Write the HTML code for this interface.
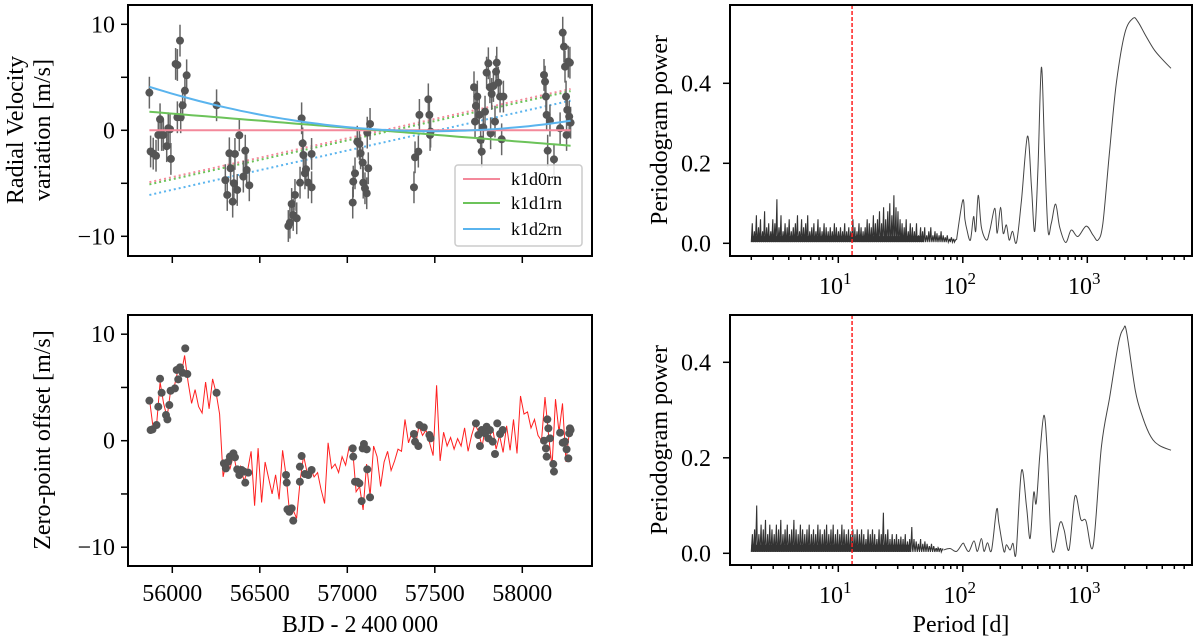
<!DOCTYPE html>
<html><head><meta charset="utf-8"><style>
html,body{margin:0;padding:0;background:#fff;}
svg{display:block;font-family:"Liberation Serif",serif;}
</style></head><body>
<svg id="fig" width="1200" height="642" viewBox="0 0 1200 642" xmlns="http://www.w3.org/2000/svg"></svg>
<script>
// ---------- Radial velocity data (top-left) ----------
const rvTimes=[55869,55876,55891,55907,55920,55930,55939,55949,55968,55977,55987,55992,56019,56029,56044,56029,56048,56059,56072,56082,56253,56303,56314,56326,56333,56345,56352,56371,56383,56358,56406,56417,56425,56440,56663,56672,56682,56691,56701,56711,56739,56745,56749,56758,56764,56730,56777,56796,56796,57031,57034,57044,57057,57069,57076,57088,57091,57101,57111,57120,57130,57114,57381,57387,57406,57412,57463,57469,57476,57473,57724,57730,57735,57743,57754,57762,57768,57777,57787,57796,57806,57815,57819,57825,57835,57844,57850,57854,57863,57873,57882,57892,58124,58130,58135,58139,58145,58158,58181,58216,58231,58238,58244,58250,58253,58257,58263,58268,58272,58276];
const rvValues=[3.55,-2.0,-2.2,-2.4,-0.44,1.04,-0.44,-0.44,-1.5,0.19,0.1,-2.7,6.26,6.16,8.46,1.23,1.23,2.36,3.74,5.19,2.36,-4.7,-6.1,-2.17,-3.58,-6.73,-5.0,-5.63,-0.47,-2.23,-4.37,-1.92,-3.74,-5.19,-9.03,-8.71,-6.95,-7.99,-6.1,-8.3,1.13,-1.23,-2.33,-4.06,-3.68,-4.94,-4.94,-2.23,-5.38,-6.82,-4.84,-4.06,-1.07,-1.29,-2.17,-3.05,-4.94,-5.47,-5.94,-3.58,0.6,-0.22,-5.38,-2.55,-2.01,1.45,2.92,1.45,-0.13,-0.44,4.06,0.82,2.3,3.18,1.45,-0.91,-2.01,0.28,1.76,5.44,6.32,4.06,-0.28,3.43,4.18,0.82,5.53,6.38,4.5,3.18,-0.85,3.18,5.22,4.59,3.18,1.45,-1.92,0.91,-2.74,0.19,9.21,7.89,6.0,3.18,-0.44,1.92,6.48,1.29,6.38,0.72];
const rvErr=[1.5];
const modelTimes=[55869,57070,58276];
const modelK1d0=[0,0,0];
const modelK1d1=[1.75,0.15,-1.45];
const modelK1d2=[4.1,0.2,0.9];
const trendK1d0=[-4.9,-0.5,3.9];
const trendK1d1=[-5.1,-0.7,3.7];
const trendK1d2=[-6.1,-1.65,2.8];

// ---------- Zero-point data (bottom-left) ----------
const zpTimes=[55869,55876,55887,55910,55920,55930,55939,55964,55972,55983,55990,56015,56025,56034,56044,56059,56074,56086,56253,56295,56306,56320,56329,56349,56358,56371,56383,56396,56410,56417,56434,56650,56654,56658,56669,56682,56691,56729,56729,56739,56758,56777,56796,57031,57034,57044,57057,57069,57082,57088,57095,57111,57114,57130,57381,57387,57406,57412,57437,57469,57476,57735,57749,57758,57768,57787,57796,57806,57815,57831,57844,57857,57873,57888,58124,58135,58139,58143,58149,58158,58177,58181,58216,58231,58244,58253,58263,58272,58276,58268];
const zpValues=[3.76,1.0,1.06,1.47,3.19,5.82,4.5,2.41,2.0,3.35,4.69,4.91,6.64,5.76,6.89,6.38,8.67,6.26,4.5,-2.13,-2.6,-1.97,-1.5,-1.19,-1.56,-2.69,-3.22,-2.75,-2.9,-3.94,-3.0,-3.22,-3.94,-6.45,-6.67,-6.35,-7.51,-3.85,-2.44,-1.44,-3.13,-3.22,-2.75,-0.72,-1.5,-3.85,-3.85,-4.0,-5.67,-0.72,-0.31,-0.81,-2.69,-5.32,0.63,-0.09,-0.5,1.47,1.25,0.53,0.22,1.63,0.53,-0.5,1.0,0.69,1.31,0.22,1.0,-0.09,-1.25,1.63,0.63,1.0,0,-0.72,-1.5,2.0,1.16,0.22,-2.19,-2.9,0.75,-0.19,-0.09,-0.81,-1.66,1.16,1.0,0.69];
const zpLineStart=55870;
const zpLineStep=20;
const zpLineValues=[3.8,1.2,1.5,5.5,3.5,2.2,4.7,5.0,6.5,6.2,8.0,5.5,3.5,4.8,3.2,2.6,5.5,3.0,5.8,4.5,2.5,-3.4,-1.9,-2.6,-1.3,-3.0,-2.4,-3.8,-2.8,-1.0,-6.1,-0.7,-5.8,-2.0,-3.5,-5.0,-3.2,-5.5,-0.9,-3.3,-6.8,-6.5,-7.3,-3.8,-1.4,-3.0,-2.6,-3.4,-3.0,-4.6,-5.9,-0.2,-2.6,-2.2,-3.0,-1.5,-2.3,-0.6,-0.8,-4.8,-4.3,-6.5,-2.2,-5.2,-0.5,-1.5,-4.3,-2.0,-1.0,-2.8,-1.9,-0.8,-1.0,2.0,-0.2,0.8,-0.4,1.4,0.5,1.0,-0.2,-1.4,5.2,-1.9,0.8,-0.5,0.3,-0.8,0.2,-0.5,1.2,-1.0,0.5,1.6,0.8,-0.6,1.5,0.2,1.2,-0.8,0.5,-1.1,1.4,-0.9,2.0,-1.2,4.2,2.5,2.7,1.2,2.0,0.5,0.0,4.1,0.6,-2.5,3.9,0.8,3.5,-2.0,1.0];

// ---------- Periodograms ----------
const pgNoiseRange=[2,89];
const pgTopNoise=[.05,.03,.07,.04,.06,.03,.08,.04,.05,.03,.06,.05,.11,.04,.07,.03,.05,.04,.06,.03,.04,.05,.07,.03,.06,.04,.05,.07,.03,.04,.05,.03,.06,.04,.03,.05,.04,.03,.04,.03,.05,.04,.03,.04,.03,.05,.03,.04,.03,.06,.04,.03,.05,.04,.03,.04,.06,.05,.04,.07,.05,.06,.08,.05,.09,.06,.08,.10,.07,.12,.09,.08,.06,.05,.04,.06,.03,.05,.04,.03,.05,.02,.04,.03,.04,.02,.03,.04,.02,.03,.025,.02,.03,.02,.015,.02,.01,.015,.01,.008];
const pgTopPeriods=[89,100,104,108,115,122,127,133,141,155,165,181,189,201,211,224,236,251,270,296,331,356,378,402,428,454,483,514,556,600,670,743,840,980,1110,1218,1334,1512,1711,1999,2333,2550,2970,3460,4000,4700];
const pgTopPower=[0.008,0.108,0.06,0.033,0.008,0.067,0.03,0.12,0.04,0.008,0.033,0.0875,0.025,0.09,0.025,0.046,0.008,0.03,0.002,0.108,0.268,0.14,0.03,0.19,0.44,0.233,0.033,0.05,0.098,0.04,0.002,0.033,0.017,0.043,0.021,0.008,0.05,0.233,0.4,0.525,0.5625,0.554,0.517,0.483,0.46,0.4375];
const pgBotNoiseRange=[2,70];
const pgBotNoise=[.04,.05,.10,.04,.06,.05,.07,.04,.06,.05,.04,.06,.05,.07,.04,.05,.06,.04,.05,.07,.05,.04,.06,.05,.04,.05,.06,.04,.05,.04,.06,.05,.04,.05,.06,.04,.05,.06,.04,.05,.04,.06,.05,.04,.05,.04,.05,.04,.05,.04,.05,.04,.03,.05,.04,.05,.04,.03,.05,.04,.085,.04,.05,.03,.04,.03,.04,.03,.035,.03,.04,.025,.03,.055,.03,.025,.02,.03,.02,.025,.02,.015,.02,.015,.01,.012,.01,.008];
const pgBotPeriods=[70,79,89,100,104,112,123,131,141,148,158,170,187,195,214,224,240,253,268,296,325,347,371,389,415,448,476,507,538,604,651,714,797,887,975,1114,1298,1512,1777,1950,2070,2430,2775,3240,3790,4700];
const pgBotPower=[0.007,0.01,0.004,0.021,0.015,0.004,0.026,0.004,0.031,0.004,0.022,0.006,0.092,0.063,0.004,0.018,0.007,0.021,0.001,0.173,0.098,0.031,0.127,0.105,0.203,0.289,0.216,0.042,0.003,0.064,0.049,0.008,0.12,0.071,0.068,0.015,0.223,0.327,0.439,0.47,0.463,0.341,0.286,0.244,0.226,0.216];
const markerPeriod=[12.9];
const leftXTicks=[56000,56500,57000,57500,58000];
const rvYTicks=[-10,-5,0,5,10];
const rvYLabels=["\u221210","","0","","10"];
const pgYTicks=[0,0.2,0.4];
const pgYLabels=["0.0","0.2","0.4"];
const decades=[1,2,3];

const NS="http://www.w3.org/2000/svg";
const svg=document.getElementById('fig');
function mk(tag,attrs,parent){const e=document.createElementNS(NS,tag);for(const k in attrs)e.setAttribute(k,attrs[k]);(parent||svg).appendChild(e);return e;}
const xT=t=>172.3+(t-56000)*0.175;
const yRV=v=>130.3-v*10.6;
const yZP=v=>440.7-v*10.65;
const xP=p=>713.8+Math.log10(p)*124.5;
const yPT=p=>243.3-p*400;
const yPB=p=>553.3-p*477.5;

function clip(id,x,y,w,h){const d=mk('defs',{});const c=mk('clipPath',{id:id},d);mk('rect',{x:x,y:y,width:w,height:h},c);}
clip('cTL',128,5,464,251);clip('cBL',128,315,464,251);clip('cTR',730,5,462,251);clip('cBR',730,315,462,250);

const FS=24;
function text(x,y,s,anchor,size,name,rot){const t=mk('text',{x:x,y:y,'text-anchor':anchor||'middle','font-size':size||FS,fill:'#000'});if(rot)t.setAttribute('transform',`rotate(-90 ${x} ${y})`);t.textContent=s;return t;}

// ---------- TOP-LEFT ----------
let g=mk('g',{'clip-path':'url(#cTL)'});

function quad(vals,t){const [t0,t1,t2]=modelTimes;const [a,b,c]=vals;return a*(t-t1)*(t-t2)/((t0-t1)*(t0-t2))+b*(t-t0)*(t-t2)/((t1-t0)*(t1-t2))+c*(t-t0)*(t-t1)/((t2-t0)*(t2-t1));}
function curve(vals,color,dash,name){let d='';for(let i=0;i<=60;i++){const t=modelTimes[0]+(modelTimes[2]-modelTimes[0])*i/60;d+=(i?'L':'M')+xT(t).toFixed(1)+' '+yRV(quad(vals,t)).toFixed(1);}const p=mk('path',{d:d,fill:'none',stroke:color,'stroke-width':2,'stroke-dasharray':dash?'2 3':'none'},g);}
curve(trendK1d0,'#f4899b',true,'trend-k1d0rn');
curve(trendK1d1,'#6cc35a',true,'trend-k1d1rn');
curve(trendK1d2,'#5ab4ee',true,'trend-k1d2rn');
rvTimes.forEach((t,i)=>{const x=xT(t),v=rvValues[i];const l=mk('line',{x1:x,x2:x,y1:yRV(v+rvErr[0]),y2:yRV(v-rvErr[0]),stroke:'#666','stroke-width':1.5},g);});
rvTimes.forEach((t,i)=>{const c=mk('circle',{cx:xT(t),cy:yRV(rvValues[i]),r:4,fill:'#555'},g);});
curve(modelK1d0,'#f4899b',false,'model-k1d0rn');
curve(modelK1d1,'#6cc35a',false,'model-k1d1rn');
curve(modelK1d2,'#5ab4ee',false,'model-k1d2rn');

// ---------- BOTTOM-LEFT ----------
g=mk('g',{'clip-path':'url(#cBL)'});

let d='';zpLineValues.forEach((v,i)=>{d+=(i?'L':'M')+xT(zpLineStart+i*zpLineStep).toFixed(1)+' '+yZP(v).toFixed(1);});
let zl=mk('path',{d:d,fill:'none',stroke:'#ff2020','stroke-width':1},g);

zpTimes.forEach((t,i)=>{const c=mk('circle',{cx:xT(t),cy:yZP(zpValues[i]),r:4,fill:'#555'},g);});

// ---------- PERIODOGRAMS ----------
function spline(pts){let s='M'+pts[0][0].toFixed(1)+' '+pts[0][1].toFixed(1);
 for(let i=0;i<pts.length-1;i++){const p0=pts[Math.max(0,i-1)],p1=pts[i],p2=pts[i+1],p3=pts[Math.min(pts.length-1,i+2)];
  const c1=[p1[0]+(p2[0]-p0[0])/6,p1[1]+(p2[1]-p0[1])/6],c2=[p2[0]-(p3[0]-p1[0])/6,p2[1]-(p3[1]-p1[1])/6];
  s+='C'+c1[0].toFixed(1)+' '+c1[1].toFixed(1)+' '+c2[0].toFixed(1)+' '+c2[1].toFixed(1)+' '+p2[0].toFixed(1)+' '+p2[1].toFixed(1);}
 return s;}
function pgram(noise,range,periods,power,yf,clipId,name){const gg=mk('g',{'clip-path':`url(#${clipId})`});
 const l0=Math.log10(range[0]),l1=Math.log10(range[1]);let d='';const n=noise.length;
 noise.forEach((v,i)=>{const p=Math.pow(10,l0+(l1-l0)*i/n),p2=Math.pow(10,l0+(l1-l0)*(i+0.5)/n),pm=Math.pow(10,l0+(l1-l0)*(i+0.75)/n);d+=(i?'L':'M')+xP(p).toFixed(1)+' '+yf(0.003).toFixed(1)+'L'+xP(p2).toFixed(1)+' '+yf(v).toFixed(1)+'L'+xP(pm).toFixed(1)+' '+yf(0.01).toFixed(1);});
 const ln=mk('path',{d:d,fill:'none',stroke:'#333','stroke-width':1.1},gg);
 const base=mk('rect',{x:xP(range[0]),y:yf(0.018),width:xP(range[1]*0.55)-xP(range[0]),height:yf(0.003)-yf(0.018),fill:'#333'},gg);
 const pts=periods.map((p,i)=>[xP(p),yf(power[i])]);
 const ls=mk('path',{d:spline(pts),fill:'none',stroke:'#444','stroke-width':1},gg);
 const yTop=clipId==='cTR'?5:315,yBot=clipId==='cTR'?256:565;
 const m=mk('line',{x1:xP(markerPeriod[0]),x2:xP(markerPeriod[0]),y1:yTop,y2:yBot,stroke:'#ff2020','stroke-width':1.5,'stroke-dasharray':'4 2'},gg);}
pgram(pgTopNoise,pgNoiseRange,pgTopPeriods,pgTopPower,yPT,'cTR','periodogram-rv');
pgram(pgBotNoise,pgBotNoiseRange,pgBotPeriods,pgBotPower,yPB,'cBR','periodogram-residuals');

// ---------- Axes frames & ticks ----------
function frame(x,y,w,h,name){const r=mk('rect',{x:x,y:y,width:w,height:h,fill:'none',stroke:'#000','stroke-width':2});}
frame(128,5,464,251,'rv-axes-frame');frame(128,315,464,251,'zero-point-axes-frame');frame(730,5,462,251,'periodogram-top-frame');frame(730,315,462,250,'periodogram-bottom-frame');
function tick(x1,y1,x2,y2){mk('line',{x1:x1,y1:y1,x2:x2,y2:y2,stroke:'#000','stroke-width':1.5});}
leftXTicks.forEach(t=>{tick(xT(t),256,xT(t),263);tick(xT(t),566,xT(t),573);text(xT(t),601,String(t),'middle',FS,'x-tick-label');});
rvYTicks.forEach((v,i)=>{tick(121,yRV(v),128,yRV(v));if(rvYLabels[i])text(115,yRV(v)+8,rvYLabels[i],'end',FS,'rv-y-tick-label');
 tick(121,yZP(v),128,yZP(v));if(rvYLabels[i])text(115,yZP(v)+8,rvYLabels[i],'end',FS,'zp-y-tick-label');});
pgYTicks.forEach((p,i)=>{tick(723,yPT(p),730,yPT(p));text(711,yPT(p)+8,pgYLabels[i],'end',FS,'pg-y-tick-label');
 tick(723,yPB(p),730,yPB(p));text(711,yPB(p)+8,pgYLabels[i],'end',FS,'pg-y-tick-label');});
for(let k=0;k<4;k++){for(let m=1;m<10;m++){const p=m*Math.pow(10,k);if(p<2||p>7000)continue;const x=xP(p);if(x>1192)continue;const len=m===1?7:4;tick(x,256,x,256+len);tick(x,565,x,565+len);}}
decades.forEach(k=>{[294,603].forEach(y=>{const t=mk('text',{x:xP(Math.pow(10,k))-3,y:y,'text-anchor':'middle','font-size':FS});t.textContent='10';const s=mk('tspan',{dy:-10,'font-size':17},t);s.textContent=String(k);});});

// axis titles
text(23,130,'Radial Velocity','middle',FS,'rv-y-axis-title',true);
text(50,130,'variation [m/s]','middle',FS,'rv-y-axis-title-line2',true);
text(50,440,'Zero-point offset [m/s]','middle',FS,'zp-y-axis-title',true);
text(667,130,'Periodogram power','middle',FS,'pg-top-y-axis-title',true);
text(667,440,'Periodogram power','middle',FS,'pg-bottom-y-axis-title',true);
text(360,632,'BJD - 2\u2009400\u2009000','middle',FS,'x-axis-title-bjd');
text(961,632,'Period [d]','middle',FS,'x-axis-title-period');

// legend
const lg=mk('g',{});
mk('rect',{x:455,y:165,width:127,height:81,rx:3,fill:'#fff','fill-opacity':0.85,stroke:'#ccc','stroke-width':1.5},lg);
[['k1d0rn','#f4899b',179],['k1d1rn','#6cc35a',203],['k1d2rn','#5ab4ee',229]].forEach(([n,c,y])=>{
 const ln=mk('line',{x1:463,x2:500,y1:y,y2:y,stroke:c,'stroke-width':2},lg);
 const t=mk('text',{x:511,y:y+6,'font-size':18},lg);t.textContent=n;});
</script>
</body></html>
